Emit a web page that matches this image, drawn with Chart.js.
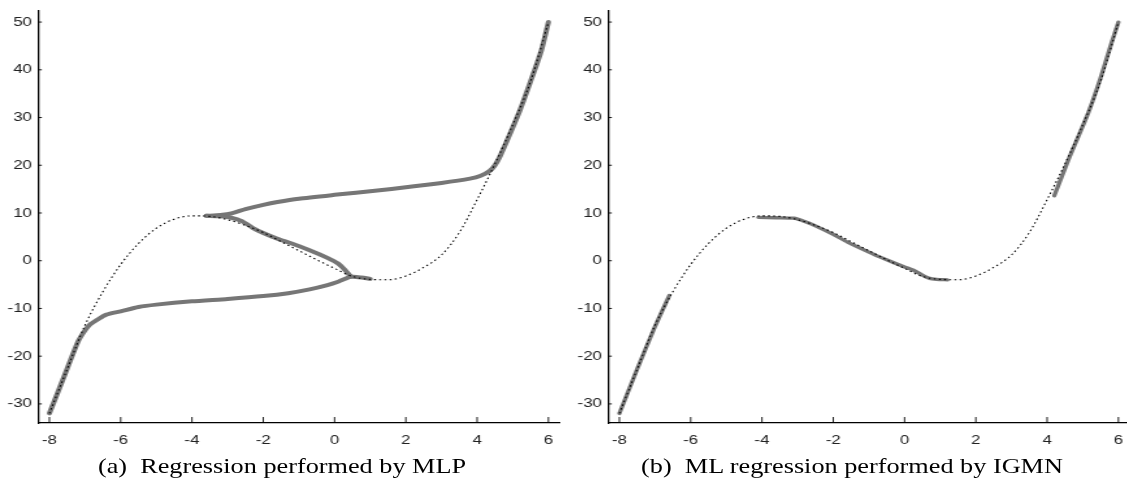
<!DOCTYPE html>
<html lang="en">
<head>
    <meta charset="UTF-8">
    <title>MLP vs IGMN regression</title>
    <script src="https://cdn.jsdelivr.net/npm/chart.js"></script>
    <style>
        body { margin: 0; background: #fff; overflow: hidden; width: 1127px; height: 489px; position: relative; }
        .panel { position: absolute; top: 0; width: 436px; height: 455px; transform: scaleX(1.3); transform-origin: 0 0; }
        .panel canvas { width: 436px; height: 455px; }
        .cap { position: absolute; top: 456px; font: 21px "Liberation Serif", serif; line-height: 21px;
               white-space: nowrap; color: #000; transform: translateX(-50%) scaleX(1.25); }
    </style>
</head>
<body>
    <div class="panel" style="left:0px"><canvas id="chartA" width="436" height="455"></canvas></div>
    <div class="panel" style="left:570px"><canvas id="chartB" width="436" height="455"></canvas></div>
    <div class="cap" style="left:282px">(a)&nbsp; Regression performed by MLP</div>
    <div class="cap" style="left:852px">(b)&nbsp; ML regression performed by IGMN</div>

    <script>
        // axis ticks
        const xTicks = [-8, -6, -4, -2, 0, 2, 4, 6];
        const yTicks = [-30, -20, -10, 0, 10, 20, 30, 40, 50];

        // target function (black dotted)
        const trueX = [-8, -7.5, -7, -6.5, -6, -5.5, -5, -4.5, -4, -3.5, -3, -2.5, -2, -1.5, -1, -0.5, 0, 0.5, 1, 1.5, 2, 2.5, 3, 3.5, 4, 4.5, 5, 5.5, 6];
        const trueY = [-32, -22.7, -13.5, -6.5, -0.8, 3.6, 6.8, 8.7, 9.4, 9.3, 8.6, 7.4, 5.9, 4.0, 2.1, 0.2, -1.6, -3.3, -3.9, -4.0, -3.2, -1.4, 1.2, 5.9, 12.8, 20.3, 28.5, 37.6, 50];

        // (a) MLP output, branches
        const mlpLowX = [-8, -7.6, -7.2, -7.0, -6.85, -6.6, -6.4, -6.0, -5.5, -5, -4, -3, -2, -1.3, -0.7, -0.2, 0.1, 0.3, 0.45];
        const mlpLowY = [-32, -24.5, -17, -14.6, -13.3, -12.1, -11.3, -10.6, -9.7, -9.2, -8.5, -8.0, -7.4, -6.8, -6.0, -5.1, -4.4, -3.8, -3.3];
        const mlpStubX = [0.45, 0.75, 1.0];
        const mlpStubY = [-3.3, -3.5, -3.8];
        const mlpMidX = [0.45, 0.3, 0.1, -0.2, -0.7, -1.2, -1.6, -2.0, -2.3, -2.6, -2.9, -3.2, -3.6];
        const mlpMidY = [-3.3, -2.0, -0.6, 0.6, 2.2, 3.6, 4.6, 5.8, 6.9, 8.3, 9.0, 9.3, 9.4];
        const mlpUpX = [-3.6, -3.2, -2.9, -2.5, -2, -1.6, -1, 0, 1.2, 2, 3, 3.8, 4.1, 4.35, 4.5, 4.65, 4.9, 5.2, 5.5, 5.8, 6];
        const mlpUpY = [9.4, 9.6, 9.9, 10.8, 11.7, 12.3, 13.0, 13.8, 14.7, 15.4, 16.3, 17.2, 17.8, 18.8, 20, 22, 26.2, 31.5, 37.6, 44, 50];

        // (b) IGMN output, three pieces
        const igmn1X = [-8, -7.5, -7, -6.6];
        const igmn1Y = [-32, -22.7, -13.8, -7.3];
        const igmn2X = [-4.1, -3.6, -3.1, -2.8, -2.5, -2, -1.6, -1, -0.7, 0, 0.25, 0.5, 0.7, 0.9, 1.2];
        const igmn2Y = [9.1, 9.0, 8.9, 8.2, 7.3, 5.5, 3.9, 1.8, 0.8, -1.3, -2.0, -3.0, -3.7, -3.9, -4.0];
        const igmn3X = [4.2, 4.6, 5.15, 5.5, 5.8, 6];
        const igmn3Y = [13.6, 21.2, 30.9, 38.3, 45.5, 50];

        function pts(xs, ys) {
            return xs.map((x, i) => ({ x: x, y: ys[i] }));
        }

        // tick marks drawn inside the plot box
        const insideTicks = {
            id: 'insideTicks',
            afterDraw(chart) {
                const ctx = chart.ctx, a = chart.chartArea;
                const xs = chart.scales.x, ys = chart.scales.y;
                ctx.save();
                ctx.strokeStyle = '#000';
                ctx.lineWidth = 0.9;
                ctx.beginPath();
                xs.ticks.forEach((t, i) => {
                    const px = xs.getPixelForTick(i);
                    ctx.moveTo(px, a.bottom);
                    ctx.lineTo(px, a.bottom - 6);
                });
                ys.ticks.forEach((t, i) => {
                    const py = ys.getPixelForTick(i);
                    ctx.moveTo(a.left, py);
                    ctx.lineTo(a.left + 3, py);
                });
                ctx.stroke();
                ctx.restore();
            }
        };

        function makeChart(id, grayPaths, grayWidth) {
            const datasets = [{
                data: pts(trueX, trueY),
                showLine: true,
                borderColor: '#000',
                borderWidth: 1.1,
                borderDash: [1.5, 2.5],
                pointRadius: 0,
                cubicInterpolationMode: 'monotone',
                order: 0
            }];
            grayPaths.forEach(p => {
                datasets.push({
                    data: pts(p[0], p[1]),
                    showLine: true,
                    borderColor: 'rgb(118,118,118)',
                    borderWidth: grayWidth,
                    borderCapStyle: 'round',
                    borderJoinStyle: 'round',
                    pointRadius: 0,
                    tension: 0.2,
                    order: 1
                });
            });
            const tickFont = { family: '"Liberation Sans", Arial, sans-serif', size: 13, lineHeight: 1 };
            return new Chart(document.getElementById(id), {
                type: 'scatter',
                data: { datasets: datasets },
                options: {
                    responsive: false,
                    devicePixelRatio: 1,
                    animation: false,
                    layout: { padding: { top: 7, right: 1.4, bottom: 0, left: 0 } },
                    plugins: { legend: { display: false }, tooltip: { enabled: false } },
                    scales: {
                        x: {
                            type: 'linear', min: -8.32, max: 6.33,
                            afterBuildTicks: s => { s.ticks = xTicks.map(v => ({ value: v })); },
                            afterFit: s => { s.height = 32; },
                            grid: { drawOnChartArea: false, drawTicks: false },
                            border: { color: '#000', width: 1.3 },
                            ticks: { color: '#222', font: tickFont, padding: 10.5, maxRotation: 0 }
                        },
                        y: {
                            type: 'linear', min: -34.0, max: 52.3,
                            afterBuildTicks: s => { s.ticks = yTicks.map(v => ({ value: v })); },
                            afterFit: s => { s.width = 29.2; },
                            grid: { drawOnChartArea: false, drawTicks: false },
                            border: { color: '#000', width: 1.3 },
                            ticks: { color: '#222', font: tickFont, padding: 4.6 }
                        }
                    }
                },
                plugins: [insideTicks]
            });
        }

        makeChart('chartA', [[mlpLowX, mlpLowY], [mlpStubX, mlpStubY], [mlpMidX, mlpMidY], [mlpUpX, mlpUpY]], 4);
        makeChart('chartB', [[igmn1X, igmn1Y], [igmn2X, igmn2Y], [igmn3X, igmn3Y]], 3.3);
    </script>
</body>
</html>
